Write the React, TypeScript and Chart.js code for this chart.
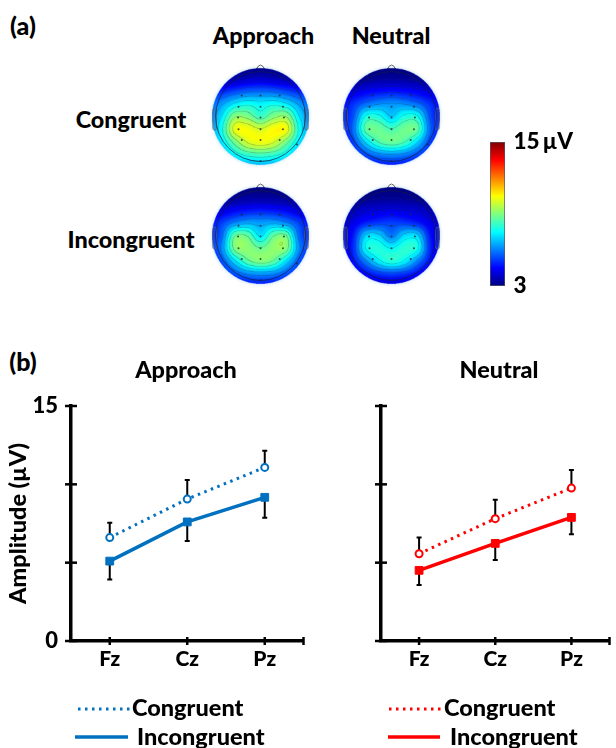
import React, { useEffect, useRef } from "react";
import { Chart, registerables } from "chart.js";

Chart.register(...registerables);

const FONT = "Lato";
const WEIGHT = 900;
Chart.defaults.font.family = FONT;
Chart.defaults.font.weight = WEIGHT as any;
Chart.defaults.color = "#000";

// ---------- panel (b) data ----------
const sites = ["Fz", "Cz", "Pz"];
const approachCongruent = [6.6, 9.06, 11.08];
const approachCongruentErrTop = [7.55, 10.27, 12.15];
const approachIncongruent = [5.1, 7.6, 9.17];
const approachIncongruentErrBottom = [3.93, 6.38, 7.87];
const neutralCongruent = [5.57, 7.81, 9.76];
const neutralCongruentErrTop = [6.6, 9.02, 10.91];
const neutralIncongruent = [4.51, 6.23, 7.89];
const neutralIncongruentErrBottom = [3.57, 5.17, 6.81];
const yTicks = [0, 5, 10, 15];

// ---------- panel (a) data: amplitude (µV) sampled on a 9×9 scalp grid, front at the top ----------
const gridAxis = [-1.1, -0.825, -0.55, -0.275, 0, 0.275, 0.55, 0.825, 1.1];
const mapApproachCongruent = [
  [3, 3, 3, 3, 3, 3, 3, 3, 3],
  [3, 3.2, 3.5, 3.7, 3.8, 3.7, 3.5, 3.2, 3],
  [4.5, 4.8, 5.2, 5.5, 5.6, 5.5, 5.2, 4.8, 4.5],
  [5.5, 6.3, 7.2, 7.6, 7.4, 7.6, 7.2, 6.3, 5.5],
  [6, 7.2, 9.1, 9, 8.2, 9, 9.2, 7.2, 6],
  [6.2, 7.7, 10.2, 10.4, 10, 10.5, 10.35, 7.7, 6.2],
  [6, 7.2, 8.8, 10, 10.3, 10, 8.8, 7.2, 6],
  [5.5, 6.3, 7.4, 8, 8.2, 8, 7.4, 6.3, 5.5],
  [5, 5.5, 6, 6.2, 6.3, 6.2, 6, 5.5, 5],
];
const mapNeutralCongruent = [
  [3, 3, 3, 3, 3, 3, 3, 3, 3],
  [3, 3.1, 3.2, 3.3, 3.3, 3.3, 3.2, 3.1, 3],
  [3.8, 4, 4.3, 4.5, 4.6, 4.5, 4.3, 4, 3.8],
  [4.5, 5, 5.7, 6.1, 6.2, 6.1, 5.7, 5, 4.5],
  [4.5, 5.4, 7.7, 7.8, 6.9, 7.8, 7.7, 5.4, 4.5],
  [4.6, 5.7, 8.5, 8.75, 8.35, 8.8, 8.6, 5.7, 4.6],
  [4.3, 5.2, 7, 8.3, 8.7, 8.3, 7, 5.2, 4.3],
  [3.8, 4.5, 5.3, 5.9, 6.1, 5.9, 5.3, 4.5, 3.8],
  [3.3, 3.8, 4.2, 4.4, 4.5, 4.4, 4.2, 3.8, 3.3],
];
const mapApproachIncongruent = [
  [3, 3, 3, 3, 3, 3, 3, 3, 3],
  [3, 3.1, 3.2, 3.3, 3.3, 3.3, 3.2, 3.1, 3],
  [3.8, 4, 4.4, 4.6, 4.7, 4.6, 4.4, 4, 3.8],
  [4.6, 5.2, 6, 6.4, 6.3, 6.4, 6, 5.2, 4.6],
  [4.8, 5.7, 8.6, 8.6, 7.2, 8.6, 8.7, 5.7, 4.8],
  [4.8, 6.1, 8.9, 9.15, 8.75, 9.2, 9, 6.1, 4.8],
  [4.4, 5.4, 7.1, 8.5, 9, 8.6, 7.1, 5.4, 4.4],
  [3.8, 4.5, 5.4, 6, 6.2, 6, 5.4, 4.5, 3.8],
  [3.3, 3.8, 4.2, 4.4, 4.5, 4.4, 4.2, 3.8, 3.3],
];
const mapNeutralIncongruent = [
  [3, 3, 3, 3, 3, 3, 3, 3, 3],
  [3, 3, 3.1, 3.2, 3.2, 3.2, 3.1, 3, 3],
  [3.4, 3.6, 3.9, 4, 4.1, 4, 3.9, 3.6, 3.4],
  [3.8, 4.2, 4.8, 5.1, 5.2, 5.1, 4.8, 4.2, 3.8],
  [3.9, 4.7, 6.9, 7, 5.9, 7, 7, 4.7, 3.9],
  [4, 4.9, 7.5, 7.9, 7.5, 8, 7.7, 4.9, 4],
  [3.7, 4.6, 6, 7.3, 7.9, 7.4, 6, 4.6, 3.7],
  [3.3, 3.9, 4.5, 5, 5.2, 5, 4.5, 3.9, 3.3],
  [3, 3.3, 3.6, 3.8, 3.9, 3.8, 3.6, 3.3, 3],
];
const electrodeU = [-0.4, 0, 0.41, -0.47, 0, 0.48, -0.48, 0, 0.5, -0.47, 0, 0.48, -0.4, 0, 0.41, 0, 0.78];
const electrodeV = [-0.45, -0.45, -0.45, -0.21, -0.21, -0.21, 0.02, 0.02, 0.02, 0.27, 0.27, 0.27, 0.5, 0.5, 0.5, 0.95, 0.6];
const scaleMin = 3;
const scaleMax = 15;
const contourStep = 0.7;
const jetStops = ["#00007f", "#0000ff", "#007fff", "#00ffff", "#7fff7f", "#ffff00", "#ff7f00", "#ff0000", "#7f0000"];

// ---------- helpers ----------
const clamp01 = (v: number) => Math.max(0, Math.min(1, v));
function jet(t: number): [number, number, number] {
  return [
    255 * clamp01(1.5 - Math.abs(4 * t - 3)),
    255 * clamp01(1.5 - Math.abs(4 * t - 2)),
    255 * clamp01(1.5 - Math.abs(4 * t - 1)),
  ];
}
const catmull = (a: number, b: number, c: number, d: number, t: number) =>
  0.5 * (2 * b + (c - a) * t + (2 * a - 5 * b + 4 * c - d) * t * t + (3 * b - a - 3 * c + d) * t * t * t);

function sample(grid: number[][], u: number, v: number) {
  const n = gridAxis.length;
  const step = gridAxis[1] - gridAxis[0];
  const fx = Math.max(0, Math.min(n - 1.001, (u - gridAxis[0]) / step));
  const fy = Math.max(0, Math.min(n - 1.001, (v - gridAxis[0]) / step));
  const ix = Math.floor(fx);
  const iy = Math.floor(fy);
  const c = (i: number) => Math.max(0, Math.min(n - 1, i));
  const rows = [-1, 0, 1, 2].map((d) => {
    const r = grid[c(iy + d)];
    return catmull(r[c(ix - 1)], r[c(ix)], r[c(ix + 1)], r[c(ix + 2)], fx - ix);
  });
  return catmull(rows[0], rows[1], rows[2], rows[3], fy - iy);
}

const topoPlugin = {
  id: "topo",
  beforeDatasetsDraw(chart: any, _a: any, opts: any) {
    const grid: number[][] = opts.grid;
    const base: number = opts.base;
    const { ctx, chartArea: area, scales } = chart;
    const xs = scales.x;
    const ys = scales.y;
    const SS = 3;
    const w = Math.round(area.right - area.left) * SS;
    const h = Math.round(area.bottom - area.top) * SS;
    const off = document.createElement("canvas");
    off.width = w;
    off.height = h;
    const octx = off.getContext("2d")!;
    const img = octx.createImageData(w, h);
    const vals = new Float32Array(w * h);
    const rad = new Float32Array(w * h);
    for (let j = 0; j < h; j++) {
      const v = ys.getValueForPixel(area.top + (j + 0.5) / SS);
      for (let i = 0; i < w; i++) {
        const u = xs.getValueForPixel(area.left + (i + 0.5) / SS);
        rad[j * w + i] = Math.hypot(u, v);
        vals[j * w + i] = sample(grid, u, v);
      }
    }
    const level = (x: number) => Math.floor((x - base) / contourStep);
    for (let j = 0; j < h; j++) {
      for (let i = 0; i < w; i++) {
        const k = j * w + i;
        const r = rad[k];
        if (r > 1.03) continue;
        const val = vals[k];
        let [cr, cg, cb] = jet((val - scaleMin) / (scaleMax - scaleMin));
        const lev = level(val);
        const nb1 = i + 1 < w ? level(vals[k + 1]) : lev;
        const nb2 = j + 1 < h ? level(vals[k + w]) : lev;
        if ((lev !== nb1 || lev !== nb2) && r < 0.97) {
          const a = 0.5;
          cr = cr * (1 - a) + 20 * a;
          cg = cg * (1 - a) + 40 * a;
          cb = cb * (1 - a) + 50 * a;
        }
        const p = k * 4;
        img.data[p] = cr;
        img.data[p + 1] = cg;
        img.data[p + 2] = cb;
        img.data[p + 3] = 255;
      }
    }
    octx.putImageData(img, 0, 0);

    const cx = xs.getPixelForValue(0);
    const cy = ys.getPixelForValue(0);
    const R = xs.getPixelForValue(1) - cx;
    ctx.save();
    // soft halo
    const halo = ctx.createRadialGradient(cx, cy, R * 0.98, cx, cy, R * 1.12);
    halo.addColorStop(0, "rgba(170,215,245,0.75)");
    halo.addColorStop(1, "rgba(220,240,250,0)");
    ctx.fillStyle = halo;
    ctx.beginPath();
    ctx.arc(cx, cy, R * 1.12, 0, Math.PI * 2);
    ctx.fill();
    // nose
    ctx.beginPath();
    ctx.moveTo(cx - R * 0.1, cy - R * 0.98);
    ctx.quadraticCurveTo(cx - R * 0.06, cy - R * 1.1, cx, cy - R * 1.1);
    ctx.quadraticCurveTo(cx + R * 0.06, cy - R * 1.1, cx + R * 0.1, cy - R * 0.98);
    ctx.strokeStyle = "#666";
    ctx.lineWidth = 1;
    ctx.stroke();
    // field
    (ctx as any).filter = "blur(0.6px)";
    ctx.imageSmoothingEnabled = true;
    ctx.imageSmoothingQuality = "high";
    ctx.drawImage(off, area.left, area.top, w / SS, h / SS);
    (ctx as any).filter = "none";
    // ears
    for (const sgn of [-1, 1]) {
      const ex = cx + sgn * R * 0.98 - R * 0.04;
      ctx.fillStyle = "rgba(60,110,190,0.3)";
      ctx.strokeStyle = "rgba(90,100,110,0.65)";
      ctx.beginPath();
      ctx.roundRect(ex, cy - R * 0.18, R * 0.08, R * 0.47, 2);
      ctx.fill();
      ctx.stroke();
    }
    // head outline
    ctx.strokeStyle = "rgba(20,25,70,0.7)";
    ctx.lineWidth = 1;
    ctx.beginPath();
    ctx.arc(cx, cy, R * 0.96, 0, Math.PI * 2);
    ctx.stroke();
    ctx.restore();
  },
};

const errorBarPlugin = {
  id: "errs",
  beforeDatasetsDraw(chart: any, _a: any, opts: any) {
    const { ctx, scales } = chart;
    ctx.save();
    ctx.strokeStyle = "#000";
    ctx.lineWidth = 2;
    opts.bars.forEach((b: { from: number[]; to: number[] }) => {
      sites.forEach((s, i) => {
        const x = scales.x.getPixelForValue(i);
        const y0 = scales.y.getPixelForValue(b.from[i]);
        const y1 = scales.y.getPixelForValue(b.to[i]);
        ctx.beginPath();
        ctx.moveTo(x, y0);
        ctx.lineTo(x, y1);
        ctx.moveTo(x - 2.5, y1);
        ctx.lineTo(x + 2.5, y1);
        ctx.stroke();
      });
    });
    ctx.restore();
  },
};

const axisTicksPlugin = {
  id: "axisTicks",
  afterDraw(chart: any) {
    const { ctx, chartArea: a, scales } = chart;
    ctx.save();
    ctx.strokeStyle = "#000";
    ctx.lineWidth = 2.5;
    scales.y.ticks.forEach((t: any) => {
      const y = scales.y.getPixelForValue(t.value);
      ctx.beginPath();
      ctx.moveTo(a.left - 6, y);
      ctx.lineTo(a.left + 6, y);
      ctx.stroke();
    });
    sites.forEach((_s, i) => {
      const x = scales.x.getPixelForValue(i);
      ctx.beginPath();
      ctx.moveTo(x, a.bottom - 4);
      ctx.lineTo(x, a.bottom + 4);
      ctx.stroke();
    });
    ctx.beginPath();
    ctx.moveTo(a.right, a.bottom - 4);
    ctx.lineTo(a.right, a.bottom + 4);
    ctx.stroke();
    ctx.restore();
  },
};

const panelTextPlugin = {
  id: "panelText",
  afterDraw(chart: any, _a: any, opts: any) {
    const { ctx, chartArea: a } = chart;
    ctx.save();
    ctx.fillStyle = "#000";
    ctx.textBaseline = "middle";
    ctx.font = `${WEIGHT} 23.4px ${FONT}`;
    ctx.textAlign = "center";
    ctx.fillText(opts.title, a.left + opts.titleDx, opts.titleY);
    ctx.textAlign = "left";
    chart.data.datasets.forEach((ds: any, i: number) => {
      const row = opts.rows[i];
      ctx.save();
      ctx.strokeStyle = ds.borderColor;
      ctx.lineWidth = ds.borderWidth;
      ctx.setLineDash(ds.borderDash || []);
      ctx.beginPath();
      ctx.moveTo(a.left + row.x0, row.y);
      ctx.lineTo(a.left + row.x1, row.y);
      ctx.stroke();
      ctx.restore();
      ctx.font = `${WEIGHT} 23.5px ${FONT}`;
      ctx.fillText(ds.label, a.left + row.tx, row.ty);
    });
    ctx.restore();
  },
};

function lineConfig(opts: {
  color: string;
  congruent: number[];
  incongruent: number[];
  errTop: number[];
  errBottom: number[];
  title: string;
  titleDx: number;
  showY: boolean;
  paddingRight: number;
  rows: any[];
}) {
  const { color } = opts;
  return {
    type: "line",
    data: {
      labels: sites,
      datasets: [
        {
          label: "Congruent",
          data: opts.congruent,
          borderColor: color,
          borderWidth: 3,
          borderDash: [2.5, 4.5],
          pointStyle: "circle",
          pointRadius: 3.5,
          pointBorderWidth: 2,
          pointBackgroundColor: "#fff",
          pointBorderColor: color,
          tension: 0,
        },
        {
          label: "Incongruent",
          data: opts.incongruent,
          borderColor: color,
          borderWidth: 3.5,
          pointStyle: "rect",
          pointRadius: 5.5,
          pointBorderWidth: 1,
          pointBackgroundColor: color,
          pointBorderColor: color,
          tension: 0,
        },
      ],
    },
    options: {
      animation: false,
      responsive: false,
      layout: { padding: { top: 66, bottom: 67, left: 0, right: opts.paddingRight } },
      plugins: {
        legend: { display: false },
        tooltip: { enabled: false },
        errs: {
          bars: [
            { from: opts.congruent, to: opts.errTop },
            { from: opts.incongruent, to: opts.errBottom },
          ],
        },
        panelText: { title: opts.title, titleDx: opts.titleDx, titleY: 30.5, rows: opts.rows },
      },
      scales: {
        x: {
          type: "category",
          offset: true,
          grid: { display: false, drawTicks: false },
          border: { color: "#000", width: 3.5 },
          ticks: { font: { size: 21, weight: WEIGHT }, color: "#000", padding: 6, maxRotation: 0 },
          afterFit: (s: any) => {
            s.height = 40;
          },
        },
        y: {
          min: 0,
          max: 15,
          grid: { display: false, drawTicks: false },
          border: { color: "#000", width: 3.5 },
          afterBuildTicks: (s: any) => {
            s.ticks = yTicks.map((value) => ({ value }));
          },
          ticks: {
            display: opts.showY,
            font: { size: 22, weight: WEIGHT },
            color: "#000",
            padding: 13,
            callback: (v: number) => (v === 0 || v === 15 ? String(v) : ""),
          },
          title: {
            display: opts.showY,
            text: "Amplitude (µV)",
            font: { size: 23.5, weight: WEIGHT },
            color: "#000",
            padding: 4,
          },
          afterFit: (s: any) => {
            s.width = 71;
          },
        },
      },
    },
    plugins: [errorBarPlugin, axisTicksPlugin, panelTextPlugin],
  };
}

function topoConfig(grid: number[][], base: number) {
  return {
    type: "scatter",
    data: {
      datasets: [
        {
          data: electrodeU.map((x, i) => ({ x, y: electrodeV[i] })),
          pointRadius: 1,
          pointBorderWidth: 0,
          pointBackgroundColor: "rgba(30,40,50,0.8)",
        },
      ],
    },
    options: {
      animation: false,
      responsive: false,
      layout: { padding: 0 },
      plugins: { legend: { display: false }, tooltip: { enabled: false }, topo: { grid, base } },
      scales: {
        x: { type: "linear", min: -1.25, max: 1.25, display: false },
        y: { type: "linear", min: -1.25, max: 1.25, reverse: true, display: false },
      },
    },
    plugins: [topoPlugin],
  };
}

function colorbarConfig() {
  return {
    type: "bar",
    data: {
      labels: ["scale"],
      datasets: [
        {
          data: [[scaleMin, scaleMax]],
          barPercentage: 1,
          categoryPercentage: 1,
          borderWidth: 1,
          borderSkipped: false,
          borderColor: "#556",
          backgroundColor: (c: any) => {
            const ch = c.chart;
            if (!ch.chartArea) return jetStops[4];
            const g = ch.ctx.createLinearGradient(0, ch.chartArea.bottom, 0, ch.chartArea.top);
            jetStops.forEach((s, i) => g.addColorStop(i / (jetStops.length - 1), s));
            return g;
          },
        },
      ],
    },
    options: {
      animation: false,
      responsive: false,
      layout: { padding: { left: 10, top: 20, bottom: 24, right: 0 } },
      plugins: { legend: { display: false }, tooltip: { enabled: false } },
      scales: {
        x: { display: false },
        y: {
          position: "right",
          min: scaleMin,
          max: scaleMax,
          grid: { display: false, drawTicks: false },
          border: { display: false },
          afterBuildTicks: (s: any) => {
            s.ticks = [{ value: scaleMin }, { value: scaleMax }];
          },
          ticks: {
            font: { size: 22.5, weight: WEIGHT },
            color: "#000",
            padding: 8.5,
            callback: (v: number) => (v === scaleMax ? `${scaleMax}\u2009µV` : String(v)),
          },
          afterFit: (s: any) => {
            s.width = 111;
          },
        },
      },
    },
  };
}

const textStyle: React.CSSProperties = {
  position: "absolute",
  fontFamily: FONT,
  fontWeight: WEIGHT,
  color: "#000",
  whiteSpace: "nowrap",
  transform: "translate(-50%,-50%)",
  lineHeight: 1,
};

const labels = [
  { text: "(a)", x: 23, y: 25, size: 25 },
  { text: "(b)", x: 23, y: 361, size: 25 },
  { text: "Approach", x: 263.5, y: 36, size: 23.3 },
  { text: "Neutral", x: 391, y: 36, size: 23.3 },
  { text: "Congruent", x: 131, y: 120, size: 23.3 },
  { text: "Incongruent", x: 131, y: 240, size: 23.4 },
];

const canvasStyle = (x: number, y: number): React.CSSProperties => ({
  position: "absolute",
  left: x,
  top: y,
  display: "block",
});

const topoPanels = [
  { grid: mapApproachCongruent, base: 9.95, x: 198, y: 53.7 },
  { grid: mapNeutralCongruent, base: 8.3, x: 329, y: 54 },
  { grid: mapApproachIncongruent, base: 8.7, x: 198, y: 173 },
  { grid: mapNeutralIncongruent, base: 7.5, x: 329, y: 173 },
];

export default function App() {
  const leftRef = useRef<HTMLCanvasElement>(null);
  const rightRef = useRef<HTMLCanvasElement>(null);
  const barRef = useRef<HTMLCanvasElement>(null);
  const topoRefs = useRef<(HTMLCanvasElement | null)[]>([]);

  useEffect(() => {
    const charts: Chart[] = [];
    charts.push(
      new Chart(
        leftRef.current!,
        lineConfig({
          color: "#0070C0",
          congruent: approachCongruent,
          incongruent: approachIncongruent,
          errTop: approachCongruentErrTop,
          errBottom: approachIncongruentErrBottom,
          title: "Approach",
          titleDx: 115,
          showY: true,
          paddingRight: 4,
          rows: [
            { x0: 7, x1: 60, y: 369, tx: 61, ty: 368 },
            { x0: 4, x1: 57, y: 397, tx: 66, ty: 397 },
          ],
        }) as any
      )
    );
    charts.push(
      new Chart(
        rightRef.current!,
        lineConfig({
          color: "#FF0000",
          congruent: neutralCongruent,
          incongruent: neutralIncongruent,
          errTop: neutralCongruentErrTop,
          errBottom: neutralIncongruentErrBottom,
          title: "Neutral",
          titleDx: 118,
          showY: false,
          paddingRight: 1,
          rows: [
            { x0: 8, x1: 61, y: 369, tx: 63, ty: 368 },
            { x0: 7, x1: 59, y: 397, tx: 69, ty: 397 },
          ],
        }) as any
      )
    );
    charts.push(new Chart(barRef.current!, colorbarConfig() as any));
    topoPanels.forEach((p, i) => {
      charts.push(new Chart(topoRefs.current[i]!, topoConfig(p.grid, p.base) as any));
    });
    return () => charts.forEach((c) => c.destroy());
  }, []);

  return (
    <div style={{ position: "absolute", left: 0, top: 0, width: 616, height: 748, overflow: "hidden", background: "#fff" }}>
      {labels.map((l) => (
        <div key={l.text} style={{ ...textStyle, left: l.x, top: l.y, fontSize: l.size }}>
          {l.text}
        </div>
      ))}
      {topoPanels.map((p, i) => (
        <canvas
          key={i}
          ref={(el) => {
            topoRefs.current[i] = el;
          }}
          width={125}
          height={125}
          style={canvasStyle(p.x, p.y)}
        />
      ))}
      <canvas ref={barRef} width={136} height={190} style={canvasStyle(480, 120)} />
      <canvas ref={leftRef} width={310} height={408} style={canvasStyle(0, 340)} />
      <canvas ref={rightRef} width={306} height={408} style={canvasStyle(310, 340)} />
    </div>
  );
}
